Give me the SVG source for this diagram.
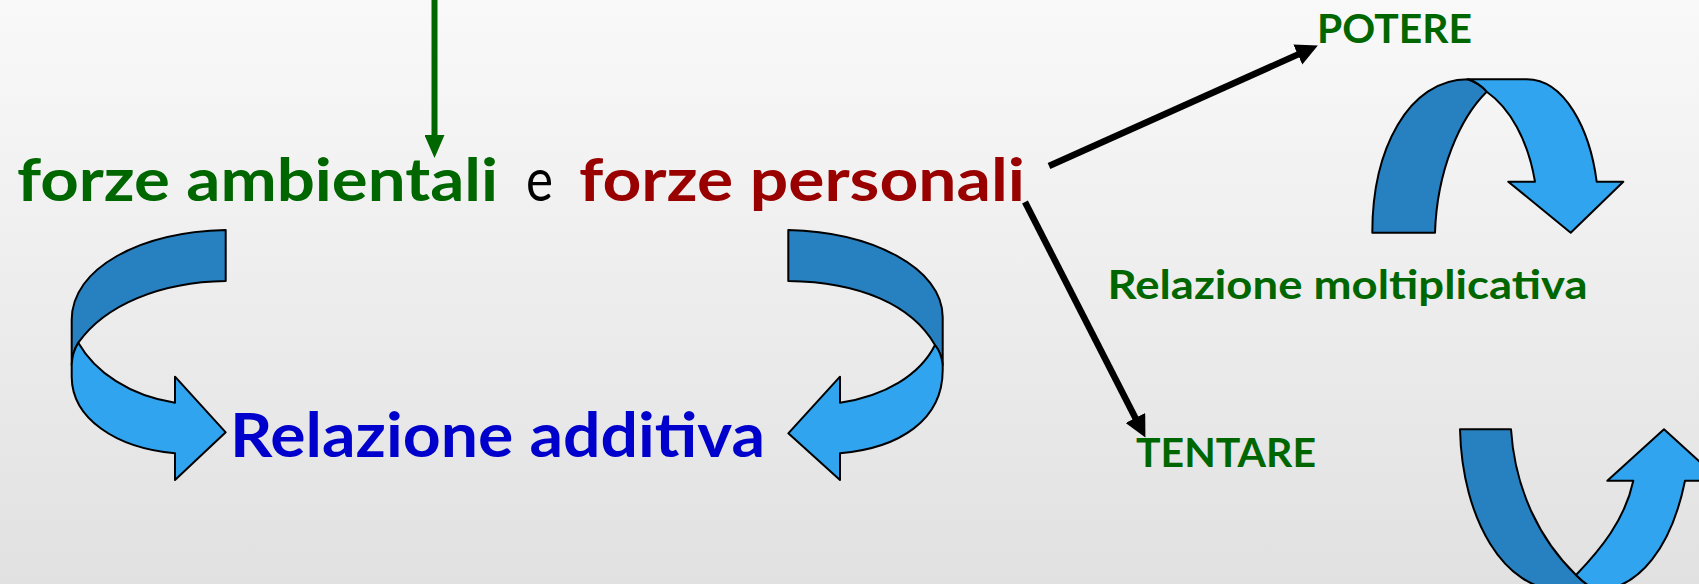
<svg xmlns="http://www.w3.org/2000/svg" width="1699" height="584" viewBox="0 0 1699 584">
<defs>
<linearGradient id="bg" x1="0" y1="0" x2="0" y2="1">
<stop offset="0" stop-color="#f9f9f9"/>
<stop offset="1" stop-color="#e1e1e1"/>
</linearGradient>
<marker id="headK" markerUnits="userSpaceOnUse" markerWidth="22" markerHeight="22" refX="9" refY="11" orient="auto">
<path d="M0,0 L22,11 L0,22 z" fill="#000"/>
</marker>
<marker id="headG" markerUnits="userSpaceOnUse" markerWidth="23" markerHeight="20" refX="10" refY="10" orient="auto">
<path d="M0,0 L23,10 L0,20 z" fill="#006600"/>
</marker>
<style>
.t{font-family:"Lato","DejaVu Sans",sans-serif;font-weight:bold}
.g{fill:#006600}
.r{fill:#990000}
.b{fill:#0000cc}
.dk{fill:#2781c0;stroke:#000;stroke-width:2;stroke-linejoin:round}
.lt{fill:#30a4ee;stroke:#000;stroke-width:2;stroke-linejoin:round}
.ln{fill:none;stroke:#000;stroke-width:6.5}
</style>
</defs>
<rect width="1699" height="584" fill="url(#bg)"/>

<g id="connectors">
<line x1="434.5" y1="-5" x2="434.5" y2="145" stroke="#006600" stroke-width="6" marker-end="url(#headG)"/>
<line class="ln" x1="1049" y1="166" x2="1306" y2="50.9" marker-end="url(#headK)"/>
<line class="ln" x1="1025" y1="202" x2="1139.5" y2="426" marker-end="url(#headK)"/>
</g>

<g id="forze">
<text class="t g" x="17" y="201" font-size="60" textLength="481" lengthAdjust="spacingAndGlyphs">forze ambientali</text>
<text x="526" y="201" font-size="60" font-family="Lato, 'DejaVu Sans', sans-serif" fill="#000" textLength="27" lengthAdjust="spacingAndGlyphs">e</text>
<text class="t r" x="579" y="201" font-size="60" textLength="446" lengthAdjust="spacingAndGlyphs">forze personali</text>
</g>

<g id="arrow-left">
<path class="dk" d="M225.7,230 C140,232 71.7,268 71.7,320 L71.7,365 C72,355 75,348 78.3,342.7 C105,305 160,282 225.7,281 Z"/>
<path class="lt" d="M78.3,342.7 C95,372 130,396 175,402.7 L175,376.7 L225.7,432.3 L175,480 L175,453.3 C115,448 72,418 71.7,377 L71.7,365 C72,355 75,348 78.3,342.7 Z"/>
</g>

<g id="arrow-right">
<path class="dk" d="M788.3,230 C872,232 942.7,268 942.7,317 L942.7,365 C942,357 939,350 935,345 C912,305 860,282 788.3,281 Z"/>
<path class="lt" d="M935,345 C939,350 942,357 942.7,365 L942.7,370 C942.7,420 900,448 840,453.3 L840,480 L788.3,433.3 L840,376.7 L840,402.7 C885,396 920,375 935,345 Z"/>
</g>

<g id="additiva">
<text class="t b" x="230" y="457" font-size="62" textLength="535" lengthAdjust="spacingAndGlyphs">Relazione additiva</text>
</g>

<g id="potere">
<text class="t g" x="1317" y="43" font-size="40" textLength="155" lengthAdjust="spacingAndGlyphs">POTERE</text>
</g>

<g id="arrow-top">
<path class="dk" d="M1372.3,232.7 C1372.3,150 1408,79.3 1468,79.3 C1476,82 1482,86 1486.7,91.7 C1460,118 1437,170 1435,232.7 Z"/>
<path class="lt" d="M1468,79.3 L1526.7,79.3 C1565,79.3 1590,130 1596.7,181.7 L1623.3,181.7 L1570.7,232.7 L1508.3,181.7 L1535,181.7 C1528,140 1510,108 1486.7,91.7 C1482,86 1476,82 1468,79.3 Z"/>
</g>

<g id="moltiplicativa">
<text class="t g" x="1107.5" y="299" font-size="40" textLength="480" lengthAdjust="spacingAndGlyphs">Relazione moltiplicativa</text>
</g>

<g id="tentare">
<text class="t g" x="1136" y="467" font-size="40" textLength="180" lengthAdjust="spacingAndGlyphs">TENTARE</text>
</g>

<g id="arrow-bottom">
<path class="dk" d="M1460,429.3 L1511,429.3 C1515,490 1540,540 1576,575 C1582,581 1588,586 1596,590 L1560,590 C1505,590 1462,520 1460,429.3 Z"/>
<path class="lt" d="M1576,575 C1600,550 1625,520 1633.3,480.7 L1607.3,480.7 L1664,429.3 L1720.7,480.7 L1685,480.7 C1672,545 1640,590 1596,590 C1588,586 1582,581 1576,575 Z"/>
</g>
</svg>
